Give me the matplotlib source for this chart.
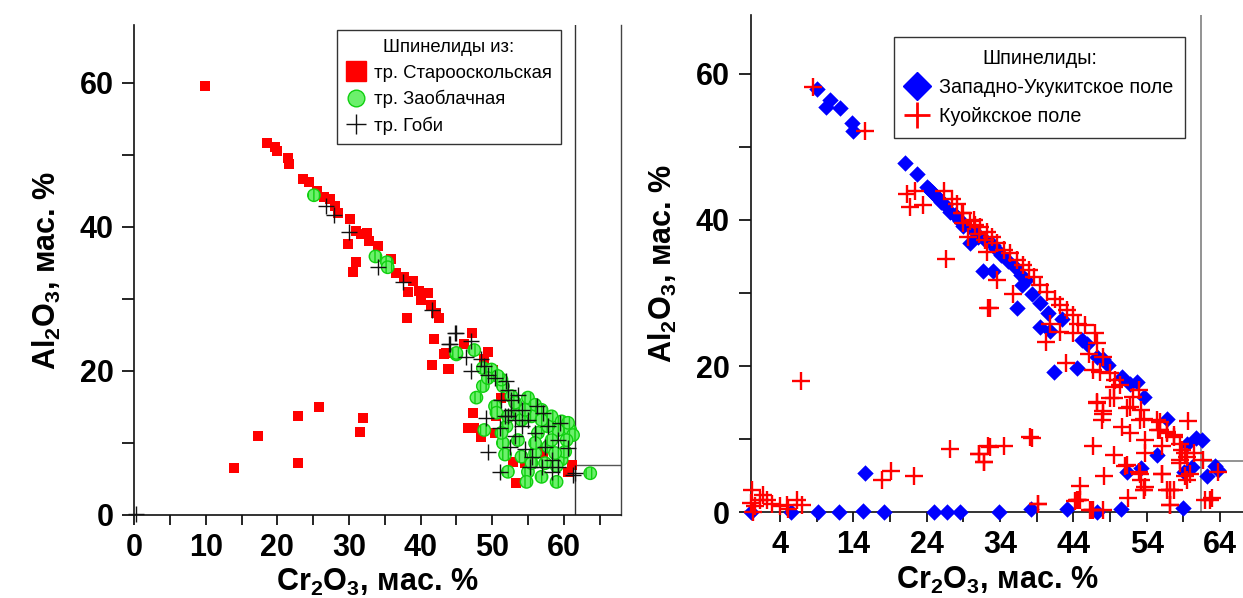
import matplotlib
matplotlib.use("Agg")
import matplotlib.pyplot as plt
from matplotlib.lines import Line2D

plt.rcParams['font.family'] = ['Liberation Sans', 'DejaVu Sans']
plt.rcParams['mathtext.fontset'] = 'custom'
plt.rcParams['mathtext.bf'] = 'Liberation Sans:bold'
plt.rcParams['mathtext.rm'] = 'Liberation Sans:bold'
plt.rcParams['mathtext.default'] = 'bf'
plt.rcParams['hatch.linewidth'] = 1.0

# ---- left panel: Staryi Oskol / Zaoblachnaya / Gobi pipes ----
stos_x = [9.9, 18.5, 19.7, 19.9, 21.5, 21.6, 23.6, 24.4, 25.6, 26.5, 27.4, 28.1, 28.4, 30.2, 29.9,
          31.0, 31.7, 32.5, 32.8, 34.0, 31.0, 30.6, 35.8, 36.6, 37.7, 38.9, 38.2, 39.8, 40.1, 41.1,
          41.5, 42.2, 42.6, 38.1, 41.9, 43.3, 41.6, 43.9, 22.9, 25.8, 31.9, 31.5, 17.3, 22.9, 14.0,
          47.2, 46.1, 43.6, 44.0, 49.4, 47.3, 46.6, 47.5, 48.4, 50.4, 52.9, 53.4, 56.9, 61.1, 60.6,
          48.9, 50.1, 51.3, 50.6, 54.6, 57.1]
stos_y = [59.6, 51.7, 51.1, 50.5, 49.5, 48.7, 46.6, 46.2, 45.0, 44.1, 43.9, 42.9, 41.9, 41.1, 37.6,
          39.5, 39.0, 39.1, 38.1, 37.4, 35.1, 33.7, 35.5, 33.6, 33.1, 32.5, 30.9, 31.1, 29.9, 30.8,
          29.2, 28.1, 27.4, 27.3, 24.5, 22.3, 20.8, 20.3, 13.8, 15.0, 13.5, 11.5, 10.9, 7.2, 6.5,
          25.2, 23.8, 22.5, 20.3, 22.7, 14.2, 12.1, 12.1, 10.8, 11.4, 7.4, 4.5, 9.1, 7.0, 6.0,
          21.6, 20.2, 16.3, 13.7, 7.2, 8.6]

zaob_x = [25.1, 33.7, 35.3, 35.4, 45.0, 45.0, 47.5, 48.7, 49.9, 48.7, 47.8, 50.4, 51.5, 52.7, 55.0,
          56.0, 56.9, 58.3, 59.7, 60.9, 61.3, 59.2, 55.5, 53.4, 52.0, 51.5, 51.8, 52.2, 55.0, 56.9,
          59.0, 54.8, 54.1, 56.0, 57.8, 59.7, 60.2, 63.7, 48.9, 53.6, 56.4, 57.8, 54.1, 56.9, 53.2,
          54.6, 51.3, 50.8, 49.4, 50.6, 51.3, 52.2, 56.0, 58.3, 58.8, 57.4, 55.5, 59.0, 60.4, 60.6]
zaob_y = [44.4, 35.9, 35.1, 34.4, 22.3, 22.5, 22.9, 20.4, 20.2, 17.9, 16.3, 15.1, 17.9, 16.5, 16.3,
          15.3, 14.6, 13.7, 13.0, 11.8, 11.1, 11.8, 13.7, 14.2, 12.3, 10.0, 8.4, 6.0, 6.0, 5.3,
          4.6, 4.6, 8.1, 8.6, 9.5, 7.7, 8.8, 5.8, 11.8, 10.4, 11.4, 12.3, 13.2, 13.2, 15.6,
          14.6, 18.8, 19.3, 19.0, 14.2, 11.4, 13.7, 10.0, 10.4, 8.6, 7.2, 7.2, 6.8, 10.4, 12.8]

gobi_x = [0.3, 26.8, 27.9, 30.0, 34.1, 37.5, 41.6, 44.1, 44.9, 44.8, 44.0, 47.0, 46.4, 47.1, 48.5,
          48.9, 49.4, 50.4, 52.0, 52.2, 51.3, 53.6, 52.7, 52.2, 49.2, 51.1, 49.4, 51.1, 53.2, 54.1,
          55.0, 56.2, 57.1, 57.8, 59.5, 60.6, 59.2, 58.3, 56.9, 55.5, 54.6, 57.4, 59.2, 61.3, 61.6,
          53.2, 56.0, 54.1, 52.7, 51.8, 52.5, 55.3, 58.3]
gobi_y = [0.1, 42.9, 41.6, 39.3, 34.5, 32.3, 28.5, 23.8, 25.3, 25.2, 23.8, 24.1, 22.0, 20.0, 21.6,
          20.7, 19.5, 19.0, 18.6, 17.4, 16.0, 16.7, 14.6, 13.7, 13.5, 12.1, 8.8, 6.0, 13.2, 12.3,
          13.2, 15.1, 14.2, 12.3, 12.8, 9.3, 10.4, 7.7, 6.7, 8.1, 9.1, 9.5, 6.7, 5.6, 5.8,
          10.9, 11.4, 14.6, 16.0, 13.7, 9.5, 6.7, 6.0]

# ---- right panel: West-Ukukit and Kuoika fields ----
wuk_x = [9.1, 10.8, 10.3, 12.2, 13.8, 14.0, 21.1, 22.7, 24.0, 24.7, 25.4, 26.5, 27.2, 28.6, 29.9,
         31.7, 33.1, 36.3, 37.0, 38.3, 39.5, 40.6, 42.4, 39.5, 40.8, 41.4, 44.5, 45.2, 45.8, 47.2,
         48.1, 48.8, 50.6, 51.7, 52.7, 53.6, 56.8, 55.4, 53.3, 51.3, 59.5, 60.8, 61.5, 60.2, 59.1,
         62.2, 63.3, 63.8, 15.6, 24.3, 25.0, 25.7, 26.0, 27.8, 28.3, 29.0, 30.4, 31.0, 32.0, 33.0,
         33.5, 34.2, 35.1, 36.0, 36.8, 37.6,
         0.0, 5.5, 9.2, 12.0, 15.3, 18.2, 25.0, 26.8, 28.6, 33.9, 38.2, 43.2, 47.3, 50.5, 59.0]
wuk_y = [57.9, 56.4, 55.4, 55.3, 53.2, 52.2, 47.7, 46.2, 44.5, 43.8, 43.1, 42.0, 41.1, 39.9, 36.8,
         33.0, 33.0, 28.0, 31.1, 29.9, 28.6, 27.2, 26.5, 25.3, 24.8, 19.2, 19.8, 23.6, 23.0, 21.3,
         21.0, 20.1, 18.5, 17.6, 17.8, 15.7, 12.7, 7.9, 6.0, 5.5, 9.4, 10.1, 9.9, 6.2, 5.5,
         5.0, 6.3, 5.8, 5.4, 44.2, 43.5, 42.8, 42.4, 40.6, 40.2, 39.2, 38.4, 37.6, 37.3, 36.6,
         36.0, 35.2, 34.4, 33.5, 32.5, 31.8,
         0.0, 0.0, 0.0, 0.1, 0.2, 0.0, 0.1, 0.0, 0.0, 0.0, 0.5, 0.4, 0.1, 0.4, 0.6]

kuo_x = [8.5, 15.6, 21.3, 22.4, 21.7, 23.5, 26.3, 27.4, 28.1, 28.8, 29.0, 29.9, 30.6, 29.7, 31.1,
         32.0, 32.2, 26.6, 32.3, 6.8, 27.2, 31.1, 31.8, 32.4, 17.9, 19.1, 22.2,
         0.1, 0.0, 0.6, 1.7, 2.2, 2.9, 4.0, 4.9, 6.3, 7.0, 5.1, 1.3, 0.3,
         29.0, 30.4, 31.3, 32.2, 32.9, 33.6, 34.5, 35.4, 36.3, 37.2, 37.9, 38.6, 39.5, 40.4, 41.5,
         42.2, 43.1, 44.0, 44.7, 45.6, 33.6, 35.8, 32.6, 40.8, 42.2, 40.3, 44.0, 47.0, 47.2, 46.1,
         48.1, 46.7, 47.7, 49.0, 49.7, 50.4, 49.5, 43.0, 47.2, 48.1, 47.9, 49.5, 51.3, 52.2, 52.9,
         53.3, 50.6, 51.7, 53.8, 53.1, 55.4, 55.8, 56.8, 57.7, 58.6, 59.7, 56.1, 59.2, 58.6, 60.4,
         59.9, 59.5, 53.8, 49.5, 46.7, 51.3, 53.0, 53.3, 53.6, 56.1, 56.8, 57.7, 57.2, 48.2, 44.9,
         44.7, 44.2, 51.5, 46.7, 48.1, 39.2, 38.1, 38.3, 34.5, 32.6, 31.1, 31.8, 62.0,
         49.0, 47.2, 48.1, 51.7, 53.6, 55.8, 55.6, 56.8, 57.7, 58.8, 59.5, 58.6, 61.7, 63.8, 51.1,
         53.1, 53.8, 56.1, 57.2, 59.2, 57.2, 46.5, 44.9, 62.9, 44.5, 46.3, 53.6, 57.2, 62.6, 39.2]
kuo_y = [58.2, 52.2, 43.5, 44.0, 41.7, 42.0, 44.0, 42.9, 42.2, 40.9, 39.5, 39.9, 39.3, 37.7, 38.1,
         37.2, 35.6, 34.7, 27.9, 18.0, 8.6, 8.0, 6.9, 9.0, 4.4, 5.7, 4.9,
         3.0, 1.3, 0.8, 2.4, 1.7, 1.2, 0.8, 1.0, 1.7, 1.0, 0.5, 1.7, 0.1,
         40.9, 40.0, 39.0, 38.3, 37.7, 36.8, 35.8, 35.4, 34.5, 33.8, 33.1, 32.2, 31.1, 30.1, 29.2,
         28.3, 27.6, 27.0, 25.8, 25.6, 31.7, 29.9, 27.9, 25.8, 24.7, 23.3, 24.5, 24.5, 23.1, 21.7,
         21.3, 19.4, 19.2, 19.0, 18.1, 17.4, 17.2, 20.4, 15.1, 13.8, 12.6, 15.6, 14.2, 15.8, 16.7,
         14.0, 11.7, 10.8, 9.9, 12.6, 12.6, 11.2, 10.8, 10.3, 9.4, 12.5, 9.0, 8.1, 7.1, 8.1,
         5.3, 4.4, 8.1, 7.8, 9.1, 6.5, 5.5, 4.4, 3.0, 5.2, 3.0, 3.0, 1.0, 5.0, 3.6,
         1.7, 1.5, 1.9, 0.3, 0.3, 1.2, 10.3, 10.2, 9.1, 8.9, 8.0, 6.9, 1.7,
         15.6, 15.0, 13.5, 14.4, 12.8, 12.4, 11.2, 11.0, 10.6, 8.5, 7.6, 6.7, 7.1, 5.5, 6.3,
         5.3, 3.5, 5.2, 3.0, 4.9, 1.0, 0.3, 1.7, 1.9, 1.7, 0.3, 3.0, 3.0, 1.7, 1.2]

GREEN_FC, GREEN_EC = '#6cf06c', '#10d010'

fig = plt.figure(figsize=(12.43, 5.98), dpi=100)
ax1 = fig.add_axes([0.108, 0.1388, 0.3916, 0.819])
ax2 = fig.add_axes([0.604, 0.1433, 0.3963, 0.8316])

ax1.scatter(stos_x, stos_y, marker='s', s=52, c='#ff0000', lw=0, zorder=3, clip_on=False)
ax1.scatter(zaob_x, zaob_y, marker='o', s=80, facecolor=GREEN_FC, edgecolor=GREEN_EC,
            hatch='|||', lw=1.0, zorder=4, clip_on=False)
ax1.scatter(gobi_x, gobi_y, marker='+', s=130, c='#111111', lw=1.0, zorder=5, clip_on=False)

ax2.scatter(wuk_x, wuk_y, marker='D', s=70, c='#0000ff', lw=0, zorder=3, clip_on=False)
ax2.scatter(kuo_x, kuo_y, marker='+', s=160, c='#ff0000', lw=1.7, zorder=4, clip_on=False)

# reference lines
ax1.axvline(61.6, color='#333333', lw=1.0, zorder=2)
ax1.plot([61.6, 68], [7, 7], color='#555555', lw=1.0, zorder=2)
ax2.axvline(61.4, color='#808080', lw=1.2, zorder=2)
ax2.plot([61.4, 67.2], [7, 7], color='#808080', lw=1.2, zorder=2)

ax1.set_xlim(0, 68); ax1.set_ylim(0, 68)
ax2.set_xlim(0, 67.2); ax2.set_ylim(0, 68)

ax1.set_xticks(range(0, 70, 5))
ax1.set_xticklabels([str(v) if v % 10 == 0 else '' for v in range(0, 70, 5)])
ax1.set_yticks(range(0, 70, 10))
ax1.set_yticklabels([str(v) if v % 20 == 0 else '' for v in range(0, 70, 10)])
ax2.set_xticks(range(4, 68, 5))
ax2.set_xticklabels([str(v) if (v - 4) % 10 == 0 else '' for v in range(4, 68, 5)])
ax2.set_yticks(range(0, 70, 10))
ax2.set_yticklabels([str(v) if v % 20 == 0 else '' for v in range(0, 70, 10)])

for ax in (ax1, ax2):
    ax.spines['top'].set_visible(False)
    for s in ('left', 'bottom'):
        ax.spines[s].set_linewidth(1.2)
        ax.spines[s].set_color('#111111')
    ax.tick_params(axis='x', length=7, width=1.2, direction='out', labelsize=22, pad=6)
    ax.tick_params(axis='y', length=9, width=1.2, direction='out', labelsize=22, pad=6)
    for lab in ax.get_xticklabels() + ax.get_yticklabels():
        lab.set_fontweight('bold')
    ax.set_xlabel(r'Cr$_2$O$_3$, мас. %', fontsize=22, fontweight='bold', labelpad=3)
    ax.set_ylabel(r'Al$_2$O$_3$, мас. %', fontsize=22, fontweight='bold', labelpad=12)

ax1.spines['right'].set_color('#444444')
ax1.spines['right'].set_linewidth(1.0)
ax2.spines['right'].set_visible(False)

h1 = [Line2D([], [], ls='none', marker='s', ms=15, mfc='#ff0000', mec='#ff0000'),
      Line2D([], [], ls='none', marker='o', ms=12, mfc=GREEN_FC, mec=GREEN_EC),
      Line2D([], [], ls='none', marker='+', ms=15, mec='#111111', mew=1.0)]
leg1 = ax1.legend(h1, ['тр. Старооскольская', 'тр. Заоблачная', 'тр. Гоби'],
                  title='Шпинелиды из:', loc='upper right', bbox_to_anchor=(0.876, 0.99),
                  borderaxespad=0, fontsize=13.3, title_fontsize=13.3, frameon=True,
                  fancybox=False, edgecolor='black', handletextpad=0.4, borderpad=0.5,
                  labelspacing=0.45, handlelength=1.1)
leg1.get_frame().set_linewidth(1.0)

h2 = [Line2D([], [], ls='none', marker='D', ms=14, mfc='#0000ff', mec='#0000ff'),
      Line2D([], [], ls='none', marker='+', ms=19, mec='#ff0000', mew=2.0)]
leg2 = ax2.legend(h2, ['Западно-Укукитское поле', 'Куойкское поле'],
                  title='Шпинелиды:', loc='upper right', bbox_to_anchor=(0.882, 0.955),
                  borderaxespad=0, fontsize=14.2, title_fontsize=14.2, frameon=True,
                  fancybox=False, edgecolor='black', handletextpad=0.5, borderpad=0.6,
                  labelspacing=0.5, handlelength=1.2)
leg2.get_frame().set_linewidth(1.0)

fig.savefig('out.png', dpi=100, facecolor='white')
